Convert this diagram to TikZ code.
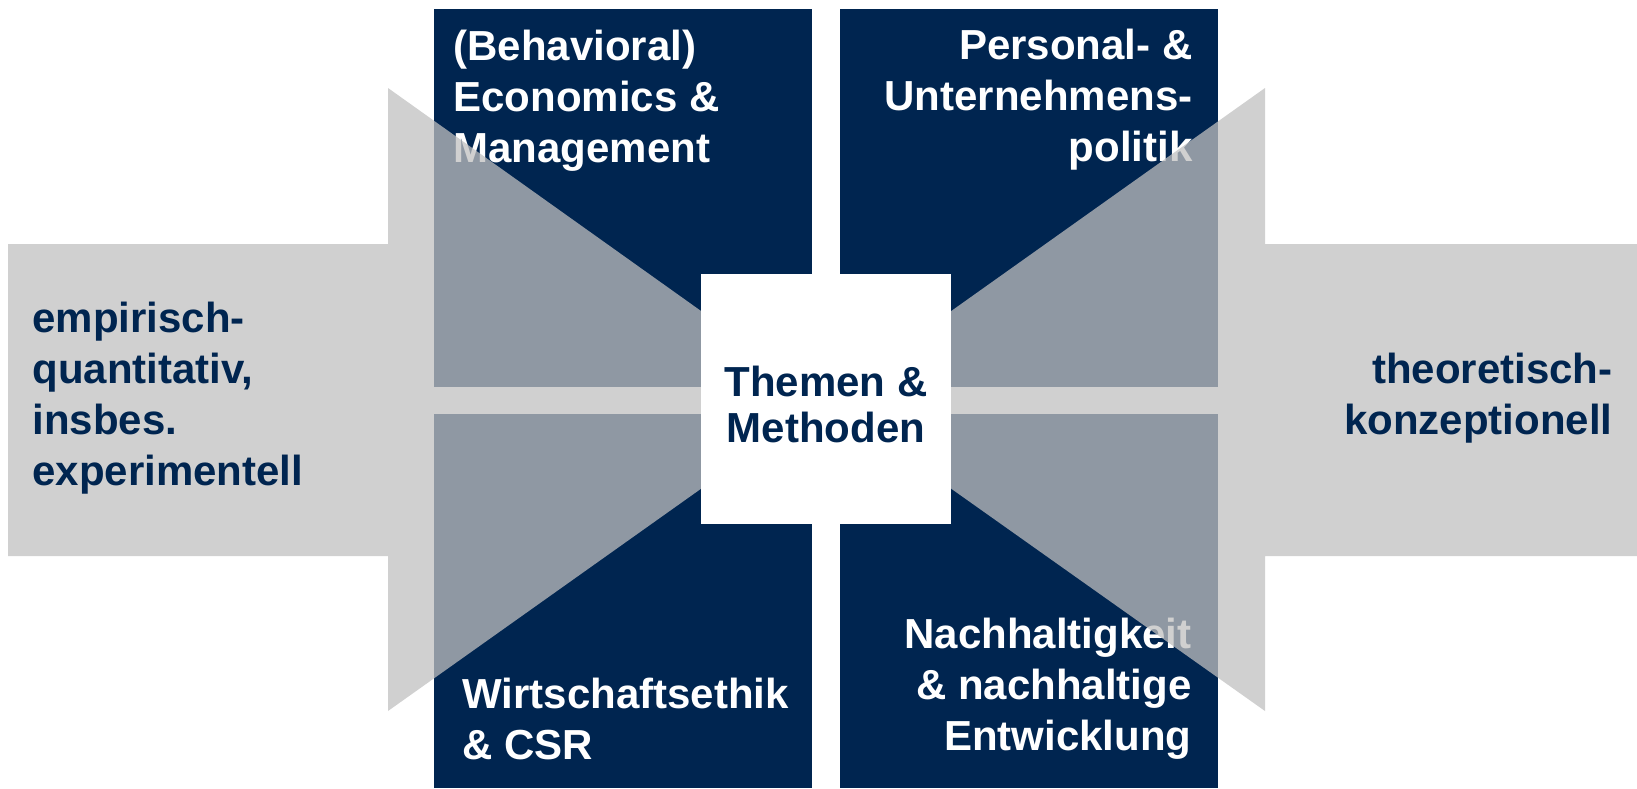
\documentclass[tikz,border=0pt]{standalone}
\usepackage{fontspec}
\setmainfont{Liberation Sans}
\usepackage{xcolor}
\usepackage{tikz}

\definecolor{uninavy}{RGB}{0,37,80}
\definecolor{arrowgray}{RGB}{192,192,192}

\begin{document}
\begin{tikzpicture}[x=0.5pt, y=-0.5pt,
    quadtext/.style={text=white, inner sep=0pt, font=\fontsize{21}{25.5}\selectfont\bfseries},
    sidetext/.style={text=uninavy, inner sep=0pt, font=\fontsize{21}{25.5}\selectfont\bfseries}]
        \useasboundingbox (0, 0) rectangle (1637, 788);

        % die vier Felder
        \fill[uninavy] (434, 9) rectangle (812, 387);
        \fill[uninavy] (840, 9) rectangle (1218, 387);
        \fill[uninavy] (434, 414) rectangle (812, 788);
        \fill[uninavy] (840, 414) rectangle (1218, 788);

        \node[quadtext, anchor=north west, align=left] (behav) at (453, 30) {(Behavioral)\\Economics \&\\Management};
        \node[quadtext, anchor=north east, align=right] (personal) at (1193, 29) {Personal- \&\\Unternehmens-\\politik};
        \node[quadtext, anchor=north west, align=left] (ethik) at (462, 678) {Wirtschaftsethik\\\& CSR};
        \node[quadtext, anchor=north east, align=right] (nachhalt) at (1192, 618) {Nachhaltigkeit\\\& nachhaltige\\Entwicklung};

        % Pfeile
        \fill[arrowgray, fill opacity=0.745] (8, 244) -- (388, 244) -- (388, 88) -- (826, 400)
            -- (388, 711) -- (388, 556) -- (8, 556) -- cycle;
        \fill[arrowgray, fill opacity=0.745] (1637, 244) -- (1265, 244) -- (1265, 88) -- (826, 400)
            -- (1265, 711) -- (1265, 556) -- (1637, 556) -- cycle;

        \node[sidetext, anchor=north west, align=left] (empir) at (32, 302) {empirisch-\\quantitativ,\\insbes.\\experimentell};
        \node[sidetext, anchor=north east, align=right] (theor) at (1613, 353) {theoretisch-\\konzeptionell};

        % Mitte
        \fill[white] (701, 274) rectangle (951, 524);
        \node[sidetext, anchor=north, align=center, font=\fontsize{21}{23}\selectfont\bfseries] (themen) at (826, 366) {Themen \&\\Methoden};
    \end{tikzpicture}
\end{document}
